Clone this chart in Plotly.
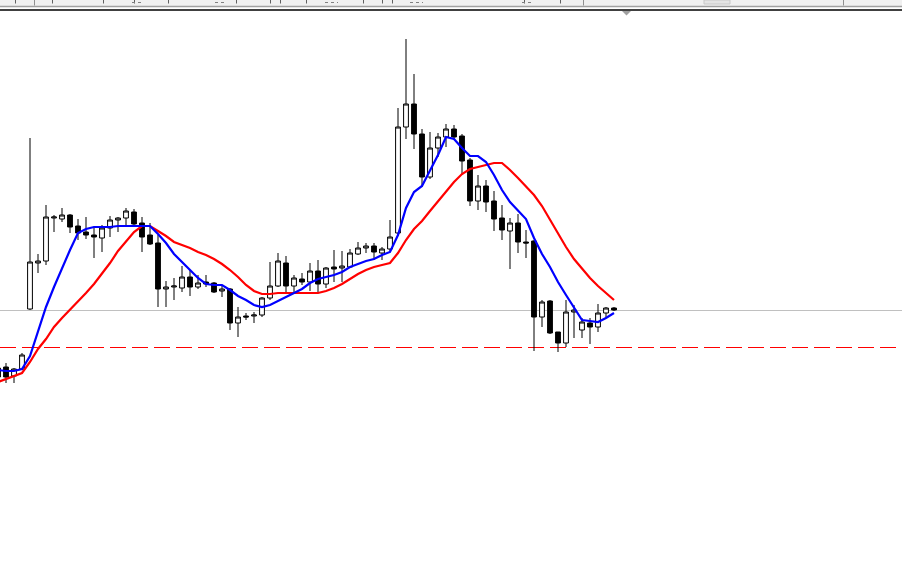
import plotly.graph_objects as go

# ---------------- data (prices) ----------------
bar_index = list(range(78))

open_ = [1.0632, 1.0633, 1.0624, 1.0631, 1.0691, 1.0737, 1.0739, 1.0782, 1.0781, 1.0785,
         1.0774, 1.0768, 1.0765, 1.0762, 1.0772, 1.0780, 1.0782, 1.0788, 1.0777, 1.0765,
         1.0757, 1.0711, 1.0713, 1.0712, 1.0723, 1.0713, 1.0718, 1.0717, 1.0709, 1.0711,
         1.0677, 1.0684, 1.0684, 1.0685, 1.0702, 1.0714, 1.0737, 1.0714, 1.0721, 1.0718,
         1.0729, 1.0716, 1.0733, 1.0732, 1.0733, 1.0746, 1.0752, 1.0754, 1.0747, 1.0751,
         1.0767, 1.0873, 1.0896, 1.0866, 1.0823, 1.0852, 1.0863, 1.0871, 1.0864, 1.0840,
         1.0799, 1.0814, 1.0799, 1.0782, 1.0769, 1.0777, 1.0758, 1.0759, 1.0683, 1.0699,
         1.0668, 1.0657, 1.0688, 1.0670, 1.0677, 1.0673, 1.0687, 1.0692]
high = [1.0635, 1.0637, 1.0632, 1.0647, 1.0862, 1.0746, 1.0795, 1.0785, 1.0792, 1.0786,
        1.0781, 1.0783, 1.0773, 1.0775, 1.0784, 1.0783, 1.0792, 1.0791, 1.0783, 1.0777,
        1.0765, 1.0719, 1.0722, 1.0734, 1.0730, 1.0725, 1.0725, 1.0718, 1.0715, 1.0712,
        1.0693, 1.0687, 1.0688, 1.0703, 1.0738, 1.0747, 1.0744, 1.0725, 1.0727, 1.0737,
        1.0740, 1.0733, 1.0750, 1.0749, 1.0751, 1.0758, 1.0757, 1.0757, 1.0753, 1.0780,
        1.0892, 1.0961, 1.0926, 1.0871, 1.0868, 1.0867, 1.0876, 1.0875, 1.0866, 1.0842,
        1.0825, 1.0820, 1.0809, 1.0795, 1.0782, 1.0786, 1.0770, 1.0760, 1.0700, 1.0700,
        1.0668, 1.0700, 1.0695, 1.0682, 1.0682, 1.0696, 1.0693, 1.0693]
low = [1.0620, 1.0617, 1.0617, 1.0630, 1.0690, 1.0727, 1.0735, 1.0768, 1.0778, 1.0767,
       1.0760, 1.0761, 1.0742, 1.0748, 1.0763, 1.0768, 1.0774, 1.0773, 1.0748, 1.0755,
       1.0693, 1.0693, 1.0700, 1.0708, 1.0704, 1.0711, 1.0713, 1.0707, 1.0703, 1.0670,
       1.0663, 1.0680, 1.0677, 1.0683, 1.0700, 1.0713, 1.0706, 1.0706, 1.0715, 1.0709,
       1.0708, 1.0712, 1.0718, 1.0718, 1.0732, 1.0745, 1.0747, 1.0740, 1.0740, 1.0748,
       1.0764, 1.0861, 1.0851, 1.0813, 1.0821, 1.0843, 1.0853, 1.0860, 1.0825, 1.0794,
       1.0790, 1.0788, 1.0769, 1.0760, 1.0731, 1.0747, 1.0742, 1.0649, 1.0673, 1.0666,
       1.0648, 1.0653, 1.0662, 1.0662, 1.0656, 1.0668, 1.0682, 1.0689]
close = [1.0623, 1.0623, 1.0631, 1.0645, 1.0738, 1.0739, 1.0783, 1.0783, 1.0785, 1.0773,
         1.0767, 1.0765, 1.0763, 1.0772, 1.0780, 1.0782, 1.0789, 1.0776, 1.0763, 1.0756,
         1.0711, 1.0713, 1.0714, 1.0723, 1.0713, 1.0717, 1.0716, 1.0708, 1.0711, 1.0677,
         1.0683, 1.0683, 1.0685, 1.0702, 1.0714, 1.0739, 1.0714, 1.0722, 1.0718, 1.0729,
         1.0716, 1.0732, 1.0731, 1.0734, 1.0747, 1.0752, 1.0754, 1.0748, 1.0751, 1.0763,
         1.0873, 1.0896, 1.0866, 1.0823, 1.0852, 1.0863, 1.0871, 1.0863, 1.0839, 1.0799,
         1.0814, 1.0798, 1.0781, 1.0770, 1.0777, 1.0758, 1.0757, 1.0683, 1.0698, 1.0667,
         1.0657, 1.0688, 1.0690, 1.0678, 1.0673, 1.0687, 1.0692, 1.0690]

ma_fast = [1.0630, 1.0629, 1.0629, 1.0631, 1.0644, 1.0668, 1.0693, 1.0713, 1.0732, 1.0750,
           1.0767, 1.0771, 1.0773, 1.0773, 1.0773, 1.0774, 1.0774, 1.0774, 1.0774, 1.0774,
           1.0766, 1.0757, 1.0746, 1.0738, 1.0730, 1.0722, 1.0716, 1.0715, 1.0715, 1.0710,
           1.0704, 1.0700, 1.0695, 1.0693, 1.0695, 1.0699, 1.0703, 1.0707, 1.0711, 1.0717,
           1.0721, 1.0723, 1.0725, 1.0728, 1.0733, 1.0736, 1.0739, 1.0741, 1.0745, 1.0748,
           1.0765, 1.0792, 1.0808, 1.0814, 1.0830, 1.0845, 1.0863, 1.0861, 1.0852, 1.0844,
           1.0844, 1.0838, 1.0825, 1.0810, 1.0798, 1.0789, 1.0781, 1.0762, 1.0746, 1.0733,
           1.0718, 1.0705, 1.0692, 1.0680, 1.0679, 1.0678, 1.0682, 1.0687]
ma_slow = [1.0618, 1.0621, 1.0624, 1.0627, 1.0638, 1.0651, 1.0661, 1.0673, 1.0682, 1.0690,
           1.0699, 1.0707, 1.0716, 1.0726, 1.0737, 1.0749, 1.0759, 1.0768, 1.0774, 1.0774,
           1.0769, 1.0764, 1.0758, 1.0755, 1.0752, 1.0748, 1.0745, 1.0741, 1.0736, 1.0730,
           1.0723, 1.0715, 1.0709, 1.0706, 1.0706, 1.0707, 1.0707, 1.0707, 1.0707, 1.0707,
           1.0707, 1.0709, 1.0712, 1.0716, 1.0721, 1.0726, 1.0730, 1.0733, 1.0735, 1.0737,
           1.0747, 1.0760, 1.0771, 1.0779, 1.0789, 1.0799, 1.0809, 1.0818, 1.0826, 1.0831,
           1.0833, 1.0835, 1.0837, 1.0837, 1.0830, 1.0822, 1.0814, 1.0805, 1.0794, 1.0780,
           1.0766, 1.0753, 1.0741, 1.0731, 1.0722, 1.0714, 1.0707, 1.0700]

bid_level = 1.06895      # thin grey price line
dashed_level = 1.06525   # red dashed level

# ---------------- layout geometry ----------------
W, H = 902, 581
x_range = [0.25, 113.0]
y_range = [1.0419, 1.1000]


def pxx(x):
    return x / W


def pyy(y):
    return 1 - y / H


fig = go.Figure()

fig.add_trace(go.Candlestick(
    x=bar_index, open=open_, high=high, low=low, close=close,
    increasing=dict(line=dict(color="black", width=1), fillcolor="white"),
    decreasing=dict(line=dict(color="black", width=1), fillcolor="black"),
    whiskerwidth=0, showlegend=False, hoverinfo="skip",
))
fig.add_trace(go.Scatter(x=bar_index, y=ma_slow, mode="lines",
                         line=dict(color="#ff0000", width=2.2), showlegend=False, hoverinfo="skip"))
fig.add_trace(go.Scatter(x=bar_index, y=ma_fast, mode="lines",
                         line=dict(color="#0000ff", width=2.2), showlegend=False, hoverinfo="skip"))

shapes = [
    dict(type="line", xref="paper", yref="y", x0=0, x1=1, y0=bid_level, y1=bid_level,
         line=dict(color="#c0c0c0", width=1), layer="below"),
    dict(type="line", xref="paper", yref="y", x0=0, x1=1, y0=dashed_level, y1=dashed_level,
         line=dict(color="#ff0000", width=1, dash="16px,6px"), layer="below"),
    # top toolbar strip
    dict(type="rect", xref="paper", yref="paper", x0=0, x1=1, y0=pyy(6), y1=1,
         fillcolor="#f0f0f0", line=dict(width=0), layer="above"),
    dict(type="line", xref="paper", yref="paper", x0=0, x1=1, y0=pyy(6.5), y1=pyy(6.5),
         line=dict(color="#a0a0a0", width=1.5), layer="above"),
    dict(type="line", xref="paper", yref="paper", x0=0, x1=1, y0=pyy(10), y1=pyy(10),
         line=dict(color="#000000", width=1.5), layer="above"),
    dict(type="path", xref="paper", yref="paper",
         path=f"M {pxx(622)} {pyy(11)} L {pxx(631)} {pyy(11)} L {pxx(626.5)} {pyy(15.5)} Z",
         fillcolor="#a0a0a0", line=dict(width=0), layer="above"),
]
# separators in the toolbar
for sx in [34.5, 583.5, 843.5]:
    shapes.append(dict(type="line", xref="paper", yref="paper", x0=pxx(sx), x1=pxx(sx),
                       y0=pyy(5.5), y1=1, line=dict(color="#909090", width=1), layer="above"))
# cut-off icon fragments
for fx in [15.5, 52.5, 103.5, 134.5, 168.5, 236.5, 270.5, 280.5, 306.5, 363.5, 382.5, 392.5, 524.5, 560.5]:
    shapes.append(dict(type="line", xref="paper", yref="paper", x0=pxx(fx), x1=pxx(fx),
                       y0=pyy(3.5), y1=1, line=dict(color="#606060", width=1), layer="above"))
for (a, b) in [(325, 338), (132, 142), (215, 227), (410, 423), (522, 533)]:
    shapes.append(dict(type="line", xref="paper", yref="paper", x0=pxx(a), x1=pxx(b),
                       y0=pyy(2.5), y1=pyy(2.5), line=dict(color="#808080", width=1, dash="dot"),
                       layer="above"))
shapes.append(dict(type="rect", xref="paper", yref="paper", x0=pxx(704), x1=pxx(730),
                   y0=pyy(4), y1=1, fillcolor="#e4e4e4", line=dict(color="#c8c8c8", width=1),
                   layer="above"))

fig.update_layout(
    width=W, height=H,
    margin=dict(l=0, r=0, t=0, b=0, pad=0),
    paper_bgcolor="white", plot_bgcolor="white",
    showlegend=False,
    boxgap=0.4, boxgroupgap=0.0,
    shapes=shapes,
    xaxis=dict(range=x_range, showgrid=False, zeroline=False, showticklabels=False,
               showline=False, ticks="", rangeslider=dict(visible=False), fixedrange=True),
    yaxis=dict(range=y_range, showgrid=False, zeroline=False, showticklabels=False,
               showline=False, ticks="", fixedrange=True),
)

fig.write_html(
    "out.html",
    config={"displayModeBar": False, "staticPlot": True},
    post_script="document.body.style.margin='0';document.body.style.overflow='hidden';",
)
